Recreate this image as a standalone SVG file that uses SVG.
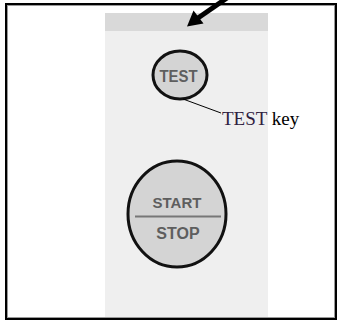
<svg xmlns="http://www.w3.org/2000/svg" width="340" height="323" viewBox="0 0 340 323">
<style>
.key{fill:#d4d4d4;stroke:#111;stroke-width:3}
.lbl{font-family:"Liberation Sans",Arial,sans-serif;font-weight:bold;fill:#5e5e5e;text-anchor:middle}
</style>
<rect width="340" height="323" fill="#fff"/>
<rect x="6" y="4" width="330" height="315" fill="none" stroke="#000" stroke-width="2"/>
<rect x="7.5" y="5.5" width="327" height="312" fill="none" stroke="#999" stroke-width="1"/>
<g id="panel">
<rect x="105" y="13" width="163" height="304" fill="#efefef"/>
<rect x="105" y="13" width="163" height="18" fill="#d9d9d9"/>
</g>
<g id="test-key">
<ellipse class="key" cx="180" cy="75" rx="27" ry="24"/>
<text class="lbl" x="178.5" y="81.5" font-size="16" textLength="38" lengthAdjust="spacingAndGlyphs">TEST</text>
</g>
<g id="start-stop">
<ellipse class="key" cx="177" cy="214" rx="49" ry="53"/>
<line x1="135" y1="216.5" x2="221" y2="216.5" stroke="#777" stroke-width="2"/>
<text class="lbl" x="177" y="207.5" font-size="15">START</text>
<text class="lbl" x="178" y="238.5" font-size="16">STOP</text>
</g>
<g id="label">
<text x="222" y="125" font-family="'Liberation Serif','Times New Roman',serif" font-size="19"><tspan fill="#2e2040">TEST</tspan> key</text>
</g>
<g id="connectors">
<line x1="183" y1="99" x2="221" y2="113" stroke="#000" stroke-width="1"/>
<line x1="227" y1="-2" x2="198" y2="18" stroke="#000" stroke-width="5"/>
<polygon points="187,26.5 203.5,23.5 193.5,10.5" fill="#000"/>
</g>
</svg>
